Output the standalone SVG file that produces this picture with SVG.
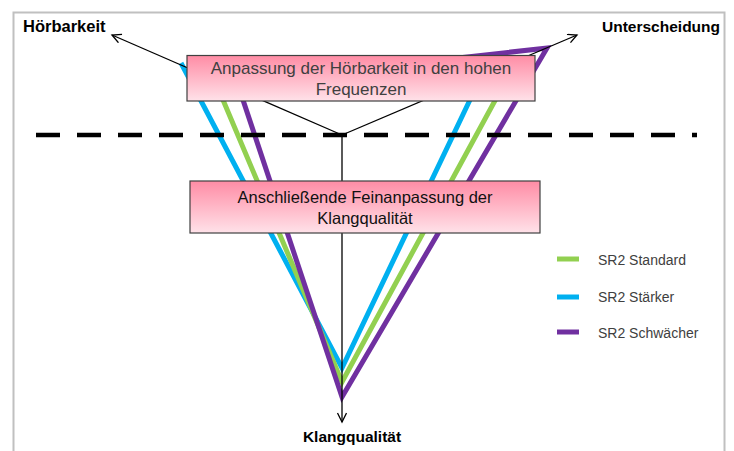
<svg xmlns="http://www.w3.org/2000/svg" width="734" height="451" viewBox="0 0 734 451">
  <defs>
    <linearGradient id="pink" x1="0" y1="0" x2="0" y2="1">
      <stop offset="0" stop-color="#ff8ca5"/>
      <stop offset="1" stop-color="#ffe2e9"/>
    </linearGradient>
    <marker id="arr" markerWidth="12" markerHeight="12" refX="10" refY="5" orient="auto" markerUnits="userSpaceOnUse">
      <path d="M1,0.5 L10,5 L1,9.5" fill="none" stroke="#000" stroke-width="1.3"/>
    </marker>
    <style>
      .v { fill: none; stroke-width: 5; stroke-linejoin: miter; stroke-miterlimit: 3; }
      .blue { stroke: #00b0f0; }
      .green { stroke: #92d050; }
      .purple { stroke: #7030a0; }
      .ax { fill: none; stroke: #000; stroke-width: 1.3; }
      .box { fill: url(#pink); stroke: #404040; stroke-width: 1.2; }
      .lbl { font-family: "Liberation Sans", Arial, sans-serif; font-weight: bold; font-size: 15.5px; fill: #000; }
      .bt { font-family: "Liberation Sans", Arial, sans-serif; font-size: 16.5px; text-anchor: middle; }
      .lg { font-family: "Liberation Sans", Arial, sans-serif; font-size: 14px; fill: #404040; }
    </style>
  </defs>
  <rect width="734" height="451" fill="#fff"/>
  <rect id="frame" x="13.5" y="12.5" width="711" height="460" fill="none" stroke="#c0c0c0" stroke-width="2"/>

  <g id="curves">
    <polyline class="v blue" points="181,63 342,368 489,60"/>
    <polyline class="v green" points="207,62 342,382 516,62"/>
    <polyline class="v purple" points="229,58 342,397 547,48 440,60"/>
  </g>

  <g id="connectors">
    <line class="ax" x1="342" y1="135" x2="112" y2="35" marker-end="url(#arr)"/>
    <line class="ax" x1="342" y1="135" x2="577" y2="35" marker-end="url(#arr)"/>
    <line class="ax" x1="342" y1="135" x2="342" y2="422" marker-end="url(#arr)"/>
    <line x1="36" y1="135" x2="697" y2="135" stroke="#000" stroke-width="4.5" stroke-dasharray="24 17"/>
  </g>

  <g id="node-hoerbarkeit-box">
    <rect class="box" x="187" y="55.5" width="348" height="45.5"/>
    <text class="bt" fill="#404040" style="font-size:17px"><tspan x="361" y="74">Anpassung der Hörbarkeit in den hohen</tspan><tspan x="361" y="95">Frequenzen</tspan></text>
  </g>

  <g id="node-klang-box">
    <rect class="box" x="190" y="181" width="350" height="52"/>
    <text class="bt" fill="#111"><tspan x="365" y="203">Anschließende Feinanpassung der</tspan><tspan x="365" y="224">Klangqualität</tspan></text>
  </g>

  <g id="node-hoerbarkeit"><text class="lbl" x="23" y="32" style="font-size:16.5px">Hörbarkeit</text></g>
  <g id="node-unterscheidung"><text class="lbl" x="720" y="32" text-anchor="end">Unterscheidung</text></g>
  <g id="node-klangqualitaet"><text class="lbl" x="352" y="442" text-anchor="middle">Klangqualität</text></g>

  <g id="legend">
    <line x1="557" y1="259" x2="579" y2="259" stroke="#92d050" stroke-width="5"/>
    <text class="lg" x="598" y="265">SR2 Standard</text>
    <line x1="557" y1="297" x2="579" y2="297" stroke="#00b0f0" stroke-width="5"/>
    <text class="lg" x="598" y="302">SR2 Stärker</text>
    <line x1="557" y1="332" x2="579" y2="332" stroke="#7030a0" stroke-width="5"/>
    <text class="lg" x="598" y="338">SR2 Schwächer</text>
  </g>
</svg>
